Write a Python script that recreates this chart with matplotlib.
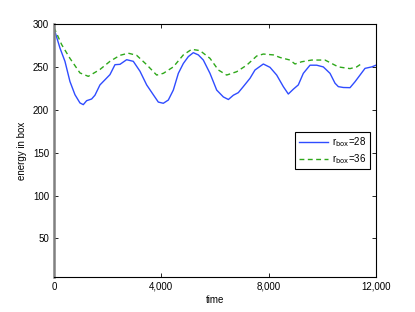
import matplotlib
matplotlib.use('Agg')
import matplotlib.pyplot as plt
from matplotlib.ticker import FuncFormatter

plt.rcParams['font.family'] = ['Liberation Sans', 'DejaVu Sans']
plt.rcParams['font.size'] = 7

# r_box = 28 (blue)
t28 = [0, 224, 410, 596, 783, 969, 1093, 1217, 1404, 1528, 1714, 1901, 2087,
       2274, 2460, 2709, 2957, 3205, 3455, 3701, 3889, 4075, 4262, 4448, 4635,
       4821, 5007, 5193, 5380, 5566, 5814, 6064, 6312, 6500, 6685, 6870, 7055,
       7305, 7491, 7802, 8051, 8300, 8547, 8733, 8919, 9105, 9292, 9541, 9790,
       10037, 10287, 10473, 10597, 10783, 11032, 11218, 11405, 11591, 11840, 12000]
e28 = [295, 272, 256.5, 233, 217.6, 208, 206, 210.6, 212.6, 217, 229, 235, 241,
       252.6, 253, 258.4, 256.5, 245, 229, 217.6, 209, 207.6, 211.4, 223, 242.5,
       254, 262, 266.6, 264, 258, 242.5, 223, 215, 212, 217, 220, 227,
       236.7, 246.4, 253.4, 249.5, 240.5, 227, 218.4, 224, 229, 242.5, 252, 252,
       250, 242.5, 231, 227, 226, 225.8, 232.7, 240.5, 248.3, 250, 252]

# r_box = 36 (green)
t36 = [0, 287, 596, 969, 1280, 1714, 2087, 2460, 2770, 3082, 3455, 3827, 4075,
       4448, 4821, 5131, 5442, 5814, 6126, 6436, 6809, 7182, 7555, 7802, 8175,
       8423, 8796, 8982, 9230, 9603, 10100, 10350, 10597, 11032, 11280, 11442]
e36 = [296, 276, 260, 243, 239, 247, 256.5, 263.5, 266, 263.5, 252.6, 240.5, 242.5,
       250, 264, 270.5, 269, 260, 246.4, 240.5, 244.4, 252, 262.7, 265, 264,
       261, 258, 253.4, 256, 258, 258, 254, 250, 248, 250, 253.4]

fig = plt.figure(figsize=(4.15, 3.12), dpi=100)
ax = fig.add_axes([0.130, 0.112, 0.776, 0.811])

ax.plot(t28, e28, color='#2f4cff', lw=1.0, label=r'r$_{\rm box}$=28')
ax.plot(t36, e36, color='#2ea81a', lw=1.0, linestyle=(0, (3.5, 2.5)), label=r'r$_{\rm box}$=36')

ax.set_xlim(0, 12000)
ax.set_ylim(5, 300)
ax.set_xticks([0, 4000, 8000, 12000])
ax.set_yticks([50, 100, 150, 200, 250, 300])
ax.xaxis.set_major_formatter(FuncFormatter(lambda v, p: '{:,}'.format(int(v))))
ax.tick_params(direction='in', top=True, right=True, length=3, width=0.6, labelsize=7)
for s in ax.spines.values():
    s.set_linewidth(0.8)
ax.spines['left'].set_color('#808080')
ax.spines['left'].set_linewidth(1.8)

ax.set_xlabel('time', fontsize=7, labelpad=2)
ax.set_ylabel('energy in box', fontsize=7, labelpad=4)

lgd = ax.legend(loc='center right', bbox_to_anchor=(0.98, 0.50), fancybox=False,
                edgecolor='black', framealpha=1, fontsize=7, handlelength=3,
                borderpad=0.35, labelspacing=0.35, handletextpad=0.4,
                borderaxespad=0)
lgd.get_frame().set_linewidth(0.8)

fig.savefig('out.png', dpi=100)
